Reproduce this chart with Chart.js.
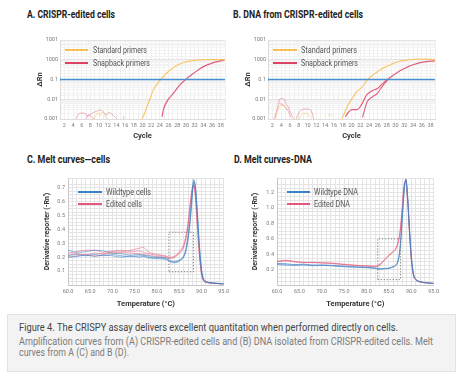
<!DOCTYPE html>
<html><head><meta charset="utf-8">
<script src="https://cdn.jsdelivr.net/npm/chart.js@4.4.1/dist/chart.umd.min.js"></script>
<style>
html,body{margin:0;padding:0;background:#fff;width:473px;height:381px;overflow:hidden;font-family:Roboto,sans-serif;}
.t{position:absolute;white-space:nowrap;transform-origin:0 50%;line-height:1;}
.title{font-weight:bold;font-size:10.5px;color:#222;}
.leg{font-size:8.5px;color:#555;}
.sw{position:absolute;height:2.4px;}
.wrap{position:absolute;}
.wrap canvas{display:block;}
#capbox{position:absolute;left:7px;top:314px;width:449px;height:58px;background:#f3f3f3;border:1px solid #e2e2e2;box-sizing:border-box;}
.cap1{font-size:10px;color:#444;}
.cap2{font-size:10px;color:#7c7c7c;}
</style></head>
<body>
<div class="t title" data-x="27" data-y="15" data-w="88">A. CRISPR-edited cells</div>
<div class="t title" data-x="233" data-y="15" data-w="130">B. DNA from CRISPR-edited cells</div>
<div class="t title" data-x="27" data-y="160" data-w="83">C. Melt curves—cells</div>
<div class="t title" data-x="234" data-y="160" data-w="78">D. Melt curves-DNA</div>

<div class="wrap" style="left:26px;top:30px;width:206px;height:115px"><canvas id="cA" width="206" height="115"></canvas></div>
<div class="wrap" style="left:236px;top:30px;width:206px;height:115px"><canvas id="cB" width="206" height="115"></canvas></div>
<div class="wrap" style="left:26px;top:168px;width:206px;height:142px"><canvas id="cC" width="206" height="142"></canvas></div>
<div class="wrap" style="left:236px;top:168px;width:206px;height:142px"><canvas id="cD" width="206" height="142"></canvas></div>

<div class="sw" style="left:65px;top:48.8px;width:23px;background:#f9bf52"></div>
<div class="t leg" data-x="93" data-y="50" data-w="54">Standard primers</div>
<div class="sw" style="left:65px;top:61.8px;width:23px;background:#dc4466"></div>
<div class="t leg" data-x="93" data-y="63" data-w="57">Snapback primers</div>

<div class="sw" style="left:273px;top:48.8px;width:24px;background:#f9bf52"></div>
<div class="t leg" data-x="301" data-y="50" data-w="56">Standard primers</div>
<div class="sw" style="left:273px;top:61.8px;width:24px;background:#dc4466"></div>
<div class="t leg" data-x="301" data-y="63" data-w="57">Snapback primers</div>

<div class="sw" style="left:78px;top:190.5px;width:24px;background:#3b7fc4"></div>
<div class="t leg" data-x="106" data-y="191.7" data-w="45">Wildtype cells</div>
<div class="sw" style="left:78px;top:203.1px;width:24px;background:#e4587a"></div>
<div class="t leg" data-x="106" data-y="204.3" data-w="36">Edited cells</div>

<div class="sw" style="left:287px;top:190.5px;width:23px;background:#3b7fc4"></div>
<div class="t leg" data-x="314" data-y="191.7" data-w="44">Wildtype DNA</div>
<div class="sw" style="left:287px;top:202.8px;width:23px;background:#e4587a"></div>
<div class="t leg" data-x="314" data-y="204" data-w="36">Edited DNA</div>

<div id="capbox"></div>
<div class="t cap1" data-x="19" data-y="328.3" data-w="379">Figure 4. The CRISPY assay delivers excellent quantitation when performed directly on cells.</div>
<div class="t cap2" data-x="19" data-y="341.7" data-w="414">Amplification curves from (A) CRISPR-edited cells and (B) DNA isolated from CRISPR-edited cells. Melt</div>
<div class="t cap2" data-x="19" data-y="353.3" data-w="110">curves from A (C) and B (D).</div>

<script>
// ---------------- data ----------------
const cycleLabels = [2,4,6,8,10,12,14,16,18,20,22,24,26,28,30,32,34,36,38];
const ampTickValues = [0.001, 0.01, 0.1, 1, 10];
const ampTickLabels = ['0.001', '0.01', '0.1', '1000', '1001'];
const thresholdCycles = [1, 39];
const thresholdValues = [0.1, 0.1];

// Panel A: CRISPR-edited cells
const aStdCycles = [19.9,20.5,21,21.7,22.5,23.3,24.1,25.2,26.4,27.5,28.6,29.7,30.9,32,33.2,34.5,36,37.5,39];
const aStdValues = [0.001,0.002,0.004,0.01,0.03,0.055,0.095,0.18,0.3,0.46,0.61,0.75,0.86,0.93,0.98,1.0,1.02,1.02,1.01];
const aSnapCycles = [24.5,24.8,25.6,27.1,28.6,29.8,31.7,34,36.2,38.9];
const aSnapValues = [0.0013,0.0029,0.0076,0.02,0.053,0.094,0.2,0.45,0.7,0.97];
const aStdNoiseCycles = [8.8,9.3,9.8,10.3,10.8,11.2,11.6,12];
const aStdNoiseValues = [0.001,0.0016,0.0021,0.0015,0.0024,0.0019,0.0012,0.001];
const aSnapNoise1Cycles = [4.6,5.2,6,6.8,7.4,7.8,8.6,9.5,10.3,11,11.6,12.2,12.8,13.6,14.2];
const aSnapNoise1Values = [0.001,0.0017,0.002,0.0019,0.0014,0.0016,0.0021,0.0025,0.0029,0.0022,0.0016,0.0021,0.0019,0.0013,0.001];
const aSnapNoise2Cycles = [7,7.6,8.3,8.8];
const aSnapNoise2Values = [0.001,0.0016,0.0013,0.001];
const aSnapNoise3Cycles = [15.6,15.7];
const aSnapNoise3Values = [0.001,0.0014];

// Panel B: DNA from CRISPR-edited cells
const bStdCycles = [17.8,18.4,19,19.9,20.9,21.7,22.5,23.6,24.7,25.9,27,28.2,29.4,30.6,31.7,32.9,34,35.2,37,39];
const bStdValues = [0.001,0.002,0.0042,0.009,0.02,0.03,0.044,0.095,0.16,0.25,0.36,0.48,0.64,0.79,0.9,0.98,1.03,1.07,1.07,1.02];
const bSnap1Cycles = [18.6,19.3,20.1,21.3,22.2,23,23.6,24.7,25.9,27,28.2,29.4,30.5,31.7,32.9,34,35.2,37,39];
const bSnap1Values = [0.0013,0.0022,0.003,0.003,0.005,0.011,0.018,0.027,0.035,0.06,0.1,0.16,0.23,0.33,0.45,0.56,0.68,0.8,0.88];
const bSnap2Cycles = [22.5,23,23.6,24.7,25.9,27,28.2];
const bSnap2Values = [0.0012,0.003,0.0076,0.013,0.02,0.045,0.095];
const bSnapNoise1Cycles = [2.4,3.2,3.6,4,4.7,5.1,5.5,6.2,6.8];
const bSnapNoise1Values = [0.001,0.004,0.009,0.011,0.01,0.006,0.0045,0.002,0.001];
const bSnapNoise2Cycles = [3.6,4.3,5,5.6,6.2];
const bSnapNoise2Values = [0.006,0.0055,0.004,0.0025,0.0012];
const bSnapNoise3Cycles = [7.4,8,8.7,9.5,10.2,10.9,11.2,11.4];
const bSnapNoise3Values = [0.001,0.002,0.003,0.0032,0.0031,0.0025,0.0015,0.001];
const bStdNoise1Cycles = [2.6,3.2,3.8,4.5,5,5.4];
const bStdNoise1Values = [0.001,0.0025,0.0048,0.0048,0.0035,0.0028];
const bStdNoise2Cycles = [8,8.6,9.3,10,10.6];
const bStdNoise2Values = [0.001,0.0017,0.002,0.0018,0.0013];
const bStdNoise3Cycles = [14.6,15.6];
const bStdNoise3Values = [0.0016,0.0016];

// Panel C: melt curves, cells
const cTemps = [60,62,64,66,68,70,72,74,76,77,78,80,82,83,84,85,86,86.5,87,87.5,88,88.3,88.6,89,89.5,90,90.5,91,92,93.5,95];
const cWild1 = [0.21,0.22,0.21,0.22,0.21,0.22,0.21,0.205,0.21,0.21,0.2,0.195,0.19,0.17,0.165,0.175,0.205,0.25,0.34,0.48,0.68,0.75,0.72,0.56,0.3,0.12,0.04,0.025,0.016,0.012,0.008];
const cWild2 = [0.25,0.235,0.24,0.25,0.245,0.23,0.225,0.215,0.22,0.215,0.21,0.2,0.195,0.175,0.17,0.18,0.21,0.26,0.36,0.5,0.7,0.76,0.71,0.54,0.28,0.1,0.035,0.022,0.015,0.011,0.008];
const cWild3 = [0.2,0.205,0.215,0.205,0.215,0.21,0.2,0.21,0.2,0.205,0.195,0.19,0.185,0.165,0.16,0.17,0.2,0.24,0.33,0.46,0.66,0.74,0.71,0.57,0.31,0.12,0.045,0.028,0.018,0.013,0.009];
const cEdit1 = [0.2,0.21,0.22,0.21,0.22,0.23,0.24,0.25,0.265,0.27,0.24,0.22,0.21,0.2,0.21,0.24,0.29,0.35,0.45,0.6,0.71,0.72,0.66,0.48,0.24,0.08,0.03,0.02,0.014,0.01,0.008];
const cEdit2 = [0.23,0.24,0.25,0.25,0.235,0.245,0.25,0.24,0.245,0.235,0.225,0.215,0.205,0.195,0.205,0.23,0.28,0.34,0.44,0.58,0.7,0.72,0.67,0.5,0.25,0.09,0.035,0.022,0.015,0.011,0.008];
const cEdit3 = [0.215,0.225,0.215,0.23,0.225,0.24,0.235,0.23,0.225,0.22,0.215,0.205,0.2,0.19,0.2,0.225,0.27,0.33,0.42,0.56,0.69,0.71,0.65,0.46,0.23,0.08,0.03,0.02,0.014,0.01,0.008];
const cBoxTemps = [82.7,88.2,88.2,82.7,82.7];
const cBoxValues = [0.095,0.095,0.38,0.38,0.095];

// Panel D: melt curves, DNA
const dTemps = [60,62,64,66,68,70,72,74,76,78,80,82,83,84,85,86,86.5,87,87.5,88,88.4,88.8,89.2,89.6,90,90.5,91,92,93.5,95];
const dWild1 = [0.28,0.275,0.265,0.27,0.26,0.26,0.255,0.25,0.24,0.235,0.23,0.22,0.21,0.215,0.22,0.24,0.26,0.31,0.45,0.85,1.2,1.38,1.15,0.75,0.4,0.15,0.08,0.045,0.03,0.02];
const dWild2 = [0.265,0.26,0.255,0.26,0.25,0.255,0.25,0.24,0.235,0.23,0.225,0.215,0.205,0.21,0.215,0.235,0.25,0.3,0.5,0.9,1.25,1.36,1.1,0.7,0.36,0.13,0.07,0.04,0.028,0.02];
const dEdit1 = [0.31,0.315,0.3,0.295,0.29,0.29,0.285,0.275,0.265,0.255,0.25,0.245,0.27,0.33,0.39,0.44,0.47,0.55,0.7,1.0,1.27,1.36,1.12,0.7,0.35,0.13,0.07,0.04,0.028,0.02];
const dEdit2 = [0.3,0.32,0.305,0.29,0.295,0.285,0.28,0.27,0.26,0.25,0.245,0.24,0.26,0.32,0.38,0.43,0.46,0.53,0.68,1.02,1.3,1.35,1.1,0.68,0.33,0.12,0.065,0.04,0.027,0.02];
const dBoxTemps = [82.5,87.6,87.6,82.5,82.5];
const dBoxValues = [0.07,0.07,0.6,0.6,0.07];

// ---------------- text fitting ----------------
document.querySelectorAll('.t').forEach(el => {
  el.style.left = el.dataset.x + 'px';
  el.style.top = el.dataset.y + 'px';
  const nat = el.getBoundingClientRect().width;
  el.style.transform = 'translateY(-50%) scaleX(' + (+el.dataset.w / nat) + ')';
});

// ---------------- charts ----------------
Chart.defaults.font.family = "Roboto, sans-serif";
const pts = (xs, ys) => xs.map((x, i) => ({x: x, y: ys[i]}));
function curve(xs, ys, color, width, extra) {
  return Object.assign({data: pts(xs, ys), borderColor: color, borderWidth: width, pointRadius: 0,
    fill: false, cubicInterpolationMode: 'monotone'}, extra || {});
}
const ORANGE = 'rgba(249,191,82,0.85)', ORANGE_L = 'rgba(249,191,82,0.6)';
const RED = 'rgba(220,68,102,0.85)', RED_L = 'rgba(220,68,102,0.45)';
const BLUE_T = '#4a8fcf';

function baseOpts(padRight, xScale, yScale) {
  return {
    responsive: false, animation: false, devicePixelRatio: 1, events: [],
    layout: {padding: {left: 0, right: padRight, top: 10, bottom: 0}},
    plugins: {legend: {display: false}, tooltip: {enabled: false}},
    scales: {x: xScale, y: yScale}
  };
}

function ampScales(yWidth, yTitlePad) {
  const x = {
    type: 'linear', min: 1, max: 39,
    afterFit: s => { s.height = 26; },
    border: {color: '#dcdcdc'},
    grid: {color: '#efefef', drawTicks: false},
    ticks: {stepSize: 1, autoSkip: false, maxRotation: 0, padding: 3, color: '#7a7a7a', font: {size: 5.5},
      callback: v => cycleLabels.includes(v) ? String(v) : ''},
    title: {display: true, text: 'Cycle', color: '#333', font: {size: 7.5, weight: 'bold'}, padding: {top: 0, bottom: 4.5}}
  };
  const y = {
    type: 'logarithmic', min: 0.001, max: 10,
    afterFit: s => { s.width = yWidth; },
    border: {color: '#dcdcdc'},
    grid: {color: c => (c.tick && c.tick.major) ? '#e3e3e3' : '#f3f3f3', drawTicks: false},
    ticks: {autoSkip: false, padding: 2, color: '#7a7a7a', font: {size: 5.5},
      callback: v => { const i = ampTickValues.findIndex(t => Math.abs(v / t - 1) < 1e-6); return i >= 0 ? ampTickLabels[i] : ''; }},
    title: {display: true, text: 'ΔRn', color: '#333', font: {size: 7.5, weight: 'bold'}, padding: {top: yTitlePad, bottom: 0}}
  };
  return [x, y];
}

function meltScales(yMax, yStep, yLabelStep, yWidth, yTitlePad) {
  const x = {
    type: 'linear', min: 60, max: 95,
    afterFit: s => { s.height = 25; },
    border: {color: '#c8c8c8'},
    grid: {color: '#e4e4e4', drawTicks: false},
    ticks: {stepSize: 1, autoSkip: false, maxRotation: 0, padding: 3, color: '#7a7a7a', font: {size: 5.5},
      callback: v => (Math.abs(v % 5) < 1e-6) ? v.toFixed(1) : ''},
    title: {display: true, text: 'Temperature (°C)', color: '#333', font: {size: 7.5, weight: 'bold'}, padding: {top: 0, bottom: 1.8}}
  };
  const y = {
    type: 'linear', min: 0, max: yMax,
    afterFit: s => { s.width = yWidth; },
    border: {color: '#c8c8c8'},
    grid: {color: '#e4e4e4', drawTicks: false},
    ticks: {stepSize: yStep, autoSkip: false, padding: 3, color: '#7a7a7a', font: {size: 5.5},
      callback: v => { const r = v / yLabelStep; return (v > 0.001 && Math.abs(r - Math.round(r)) < 1e-6) ? v.toFixed(1) : ''; }},
    title: {display: true, text: "Derivative reporter (-Rn')", color: '#333', font: {size: 7, weight: 'bold'}, padding: {top: yTitlePad, bottom: 0}}
  };
  return [x, y];
}

const threshold = () => curve(thresholdCycles, thresholdValues, BLUE_T, 1.6,
  {cubicInterpolationMode: 'default', tension: 0, pointRadius: [2.2, 0], pointStyle: 'triangle', rotation: 90, pointBackgroundColor: BLUE_T, pointBorderWidth: 0});

// A
(function () {
  const [x, y] = ampScales(34, 9.5);
  new Chart(document.getElementById('cA'), {
    type: 'line',
    data: {datasets: [
      threshold(),
      curve(aStdCycles, aStdValues, ORANGE, 1.2),
      curve(aSnapCycles, aSnapValues, RED, 1.2),
      curve(aStdNoiseCycles, aStdNoiseValues, ORANGE_L, 0.9),
      curve(aSnapNoise1Cycles, aSnapNoise1Values, RED_L, 0.9),
      curve(aSnapNoise2Cycles, aSnapNoise2Values, RED_L, 0.9),
      curve(aSnapNoise3Cycles, aSnapNoise3Values, RED_L, 0.9)
    ]},
    options: baseOpts(7, x, y)
  });
})();

// B
(function () {
  const [x, y] = ampScales(32, 7.5);
  new Chart(document.getElementById('cB'), {
    type: 'line',
    data: {datasets: [
      threshold(),
      curve(bStdCycles, bStdValues, ORANGE, 1.2),
      curve(bSnap1Cycles, bSnap1Values, RED, 1.2),
      curve(bSnap2Cycles, bSnap2Values, RED, 1.1),
      curve(bSnapNoise1Cycles, bSnapNoise1Values, RED_L, 0.9),
      curve(bSnapNoise2Cycles, bSnapNoise2Values, RED_L, 0.9),
      curve(bSnapNoise3Cycles, bSnapNoise3Values, RED_L, 0.9),
      curve(bStdNoise1Cycles, bStdNoise1Values, ORANGE_L, 0.9),
      curve(bStdNoise2Cycles, bStdNoise2Values, ORANGE_L, 0.9),
      curve(bStdNoise3Cycles, bStdNoise3Values, ORANGE_L, 0.9)
    ]},
    options: baseOpts(7, x, y)
  });
})();

const BLUE = 'rgba(59,127,196,0.55)', PINK = 'rgba(228,88,122,0.48)';
const box = (xs, ys) => curve(xs, ys, '#7d7d7d', 1, {cubicInterpolationMode: 'default', tension: 0, borderDash: [1.2, 1.8]});

// C
(function () {
  const [x, y] = meltScales(0.77, 0.025, 0.1, 42, 17.5);
  new Chart(document.getElementById('cC'), {
    type: 'line',
    data: {datasets: [
      box(cBoxTemps, cBoxValues),
      curve(cTemps, cWild1, BLUE, 1.0),
      curve(cTemps, cWild2, BLUE, 1.0),
      curve(cTemps, cWild3, BLUE, 1.0),
      curve(cTemps, cEdit1, PINK, 1.0),
      curve(cTemps, cEdit2, PINK, 1.0),
      curve(cTemps, cEdit3, PINK, 1.0)
    ]},
    options: baseOpts(4, x, y)
  });
})();

// D
(function () {
  const [x, y] = meltScales(1.39, 0.05, 0.2, 41, 14.8);
  new Chart(document.getElementById('cD'), {
    type: 'line',
    data: {datasets: [
      box(dBoxTemps, dBoxValues),
      curve(dTemps, dWild1, 'rgba(59,127,196,0.7)', 1.0),
      curve(dTemps, dWild2, 'rgba(59,127,196,0.7)', 1.0),
      curve(dTemps, dEdit1, 'rgba(228,88,122,0.65)', 1.0),
      curve(dTemps, dEdit2, 'rgba(228,88,122,0.65)', 1.0)
    ]},
    options: baseOpts(4.7, x, y)
  });
})();
</script>
</body></html>
